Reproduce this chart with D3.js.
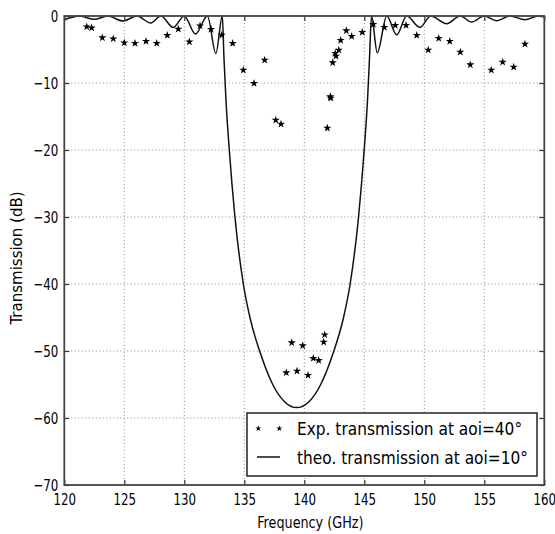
<!DOCTYPE html>
<html><head><meta charset="utf-8">
<script src="https://cdn.jsdelivr.net/npm/d3@7"></script>
<style>body{margin:0;background:#fff}svg{display:block}text{font-family:"DejaVu Sans",sans-serif;fill:#000}</style>
</head><body><svg id="c" width="555" height="534"></svg>
<script>
const xTicks = [120,125,130,135,140,145,150,155,160];
const yTicks = [0,-10,-20,-30,-40,-50,-60,-70];

const expFreq = [121.87,122.28,123.17,124.08,125.0,125.89,126.81,127.7,128.58,129.5,130.42,131.31,132.23,133.12,134.03,134.92,135.81,136.7,137.62,138.06,
  138.5,138.95,139.39,139.87,140.31,140.75,141.2,141.62,141.7,141.92,142.17,142.2,142.37,142.58,142.64,142.87,143.03,143.5,143.95,144.83,
  145.75,146.67,147.58,148.48,149.37,150.33,151.2,152.12,153.0,153.83,155.58,156.53,157.45,158.39];
const expDb = [-1.6,-1.75,-3.24,-3.39,-3.99,-4.07,-3.78,-4.07,-2.88,-1.94,-3.84,-1.45,-1.99,-2.84,-4.07,-8.06,-10.04,-6.57,-15.52,-16.12,
  -53.24,-48.76,-52.99,-49.21,-53.63,-51.1,-51.4,-48.66,-47.57,-16.72,-12.04,-12.24,-6.97,-5.57,-5.97,-5.07,-3.63,-2.19,-3.03,-2.43,
  -1.24,-1.69,-1.39,-1.39,-2.88,-5.07,-3.33,-3.78,-5.37,-7.27,-8.06,-6.87,-7.61,-4.18];

const theoFreq = [120,121.3,122.5,123.6,124.9,126.05,127.2,128.05,129.08,130.0,130.93,131.93,132.63,133.17,133.3,133.47,133.75,134.22,134.92,135.47,
  136.37,137.37,138.37,139.37,140.37,141.37,142.37,143.27,143.82,144.52,144.99,145.27,145.44,145.6,146.08,146.87,147.7,148.53,149.64,150.53,
  151.87,152.98,153.95,155.0,156.03,157.14,158.39,159.5,160];
const theoDb = [-0.55,0,-0.5,0,-0.75,0,-1.05,0,-1.7,0,-2.7,0,-5.6,0,-6,-12.5,-20,-30,-40,-45,
  -50.5,-55,-57.6,-58.45,-57.6,-55,-50.5,-45,-40,-30,-20,-12.5,-6,0,-5.5,0,-2.8,0,-1.7,0,
  -1.15,0,-0.9,0,-0.7,0,-0.55,0,-0.15];

const legendLabels = ["Exp. transmission at aoi=40°","theo. transmission at aoi=10°"];
const xTitle = "Frequency (GHz)", yTitle = "Transmission (dB)";

const L=64.3, R=544.3, T=16, B=485;
const SX=0.74;
const svg = d3.select("#c");
const x = d3.scaleLinear().domain([120,160]).range([L,R]);
const y = d3.scaleLinear().domain([-70,0]).range([B,T]);

// grid
const grid = svg.append("g").attr("stroke","#8a8a8a").attr("stroke-width",1).attr("stroke-dasharray","1,2.5");
grid.selectAll("line.gx").data(xTicks.slice(1,-1)).join("line").attr("x1",d=>x(d)).attr("x2",d=>x(d)).attr("y1",T).attr("y2",B);
grid.selectAll("line.gy").data(yTicks.slice(1,-1)).join("line").attr("y1",d=>y(d)).attr("y2",d=>y(d)).attr("x1",L).attr("x2",R);

// theoretical curve
const line = d3.line().x((d,i)=>x(theoFreq[i])).y((d,i)=>y(theoDb[i])).curve(d3.curveMonotoneX);
svg.append("path").datum(theoDb).attr("d",line).attr("fill","none").attr("stroke","#111").attr("stroke-width",1.5);

// stars
const star = d3.symbol().type(d3.symbolStar).size(21);
svg.append("g").selectAll("path").data(expFreq).join("path")
  .attr("d",star).attr("transform",(d,i)=>`translate(${x(d)},${y(expDb[i])})`).attr("fill","#000");

// axes
const fmt = d3.format("d");
const ax = svg.append("g").attr("transform",`translate(0,${B})`).call(d3.axisBottom(x).tickValues(xTicks).tickFormat(fmt).tickSizeInner(-5).tickSizeOuter(0).tickPadding(7));
const ay = svg.append("g").attr("transform",`translate(${L},0)`).call(d3.axisLeft(y).tickValues(yTicks).tickFormat(fmt).tickSizeInner(-5).tickSizeOuter(0).tickPadding(8));
const axt = svg.append("g").attr("transform",`translate(0,${T})`).call(d3.axisTop(x).tickValues(xTicks).tickFormat("").tickSizeInner(-5).tickSizeOuter(0));
const ayr = svg.append("g").attr("transform",`translate(${R},0)`).call(d3.axisRight(y).tickValues(yTicks).tickFormat("").tickSizeInner(-5).tickSizeOuter(0));
[ax,ay,axt,ayr].forEach(g=>{g.select(".domain").remove();g.selectAll(".tick line").attr("stroke","#333").attr("stroke-width",1.2);});
ax.selectAll(".tick text").attr("font-size",16).attr("font-family","DejaVu Sans").attr("fill","#000")
  .attr("transform",`scale(${SX},1)`).attr("dy","0.8em");
ay.selectAll(".tick text").attr("font-size",16).attr("font-family","DejaVu Sans").attr("fill","#000")
  .attr("transform",`scale(${SX},1)`).attr("x",-6/SX);
// spines
svg.append("rect").attr("x",L).attr("y",T).attr("width",R-L).attr("height",B-T).attr("fill","none").attr("stroke","#444").attr("stroke-width",1.8);

// axis titles
svg.append("text").attr("transform",`translate(${(L+R)/2+6},528) scale(0.8,1)`).attr("text-anchor","middle").attr("font-size",16).text(xTitle);
svg.append("text").attr("transform",`translate(22,258) rotate(-90)`).attr("text-anchor","middle").attr("font-size",15).text(yTitle);

// legend
const lg = svg.append("g");
lg.append("rect").attr("x",247).attr("y",413).attr("width",290).attr("height",63).attr("fill","#fff").attr("stroke","#222").attr("stroke-width",1.5);
[258.3,279.3].forEach(px=>lg.append("path").attr("d",d3.symbol().type(d3.symbolStar).size(11)).attr("transform",`translate(${px},428.5)`).attr("fill","#000"));
lg.append("line").attr("x1",257).attr("x2",280).attr("y1",457).attr("y2",457).attr("stroke","#111").attr("stroke-width",1.5);
lg.selectAll("text").data(legendLabels).join("text").attr("font-size",18)
  .attr("transform",(d,i)=>`translate(297,${435+i*28.5}) scale(0.855,1)`).text(d=>d);
</script></body></html>
